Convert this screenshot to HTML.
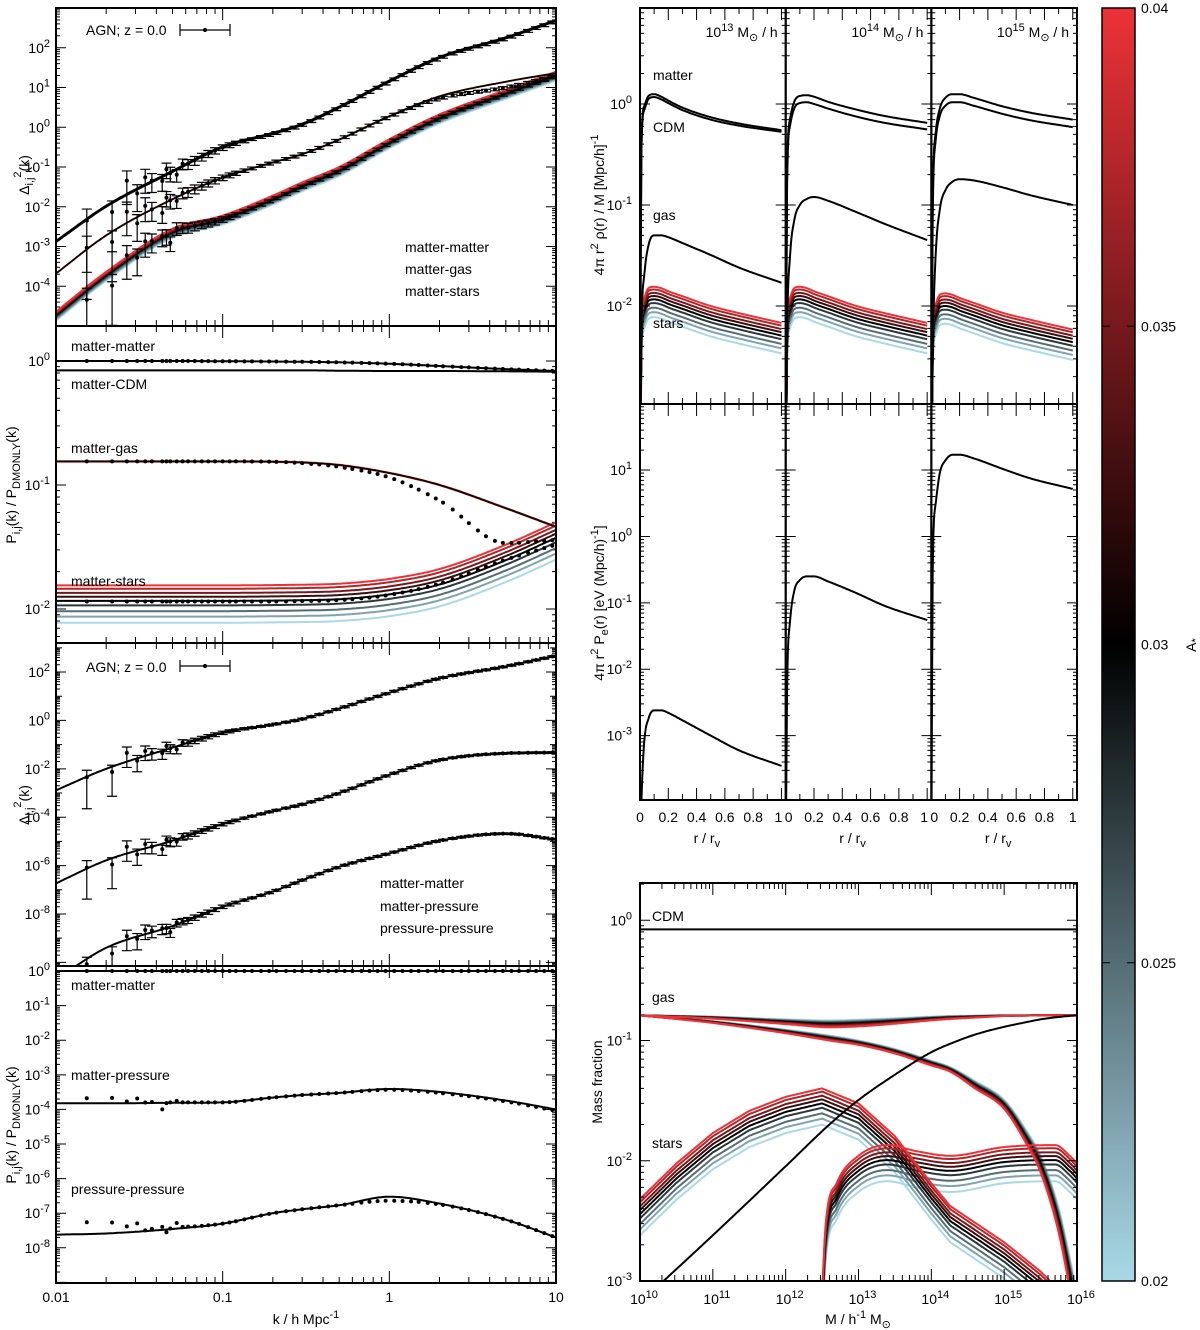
<!DOCTYPE html>
<html><head><meta charset="utf-8"><title>Power spectra and halo profiles</title>
<style>
html,body{margin:0;padding:0;background:#fff;}
svg{display:block;font-family:"Liberation Sans",Arial,sans-serif;}
text{font-size:14px;fill:#000;}
</style></head>
<body>
<svg id="chart" width="1200" height="1330" viewBox="0 0 1200 1330" xmlns="http://www.w3.org/2000/svg">
<defs>
<linearGradient id="cbgrad" x1="0" y1="0" x2="0" y2="1">
<stop offset="0" stop-color="#ec3237"/>
<stop offset="0.5" stop-color="#000"/>
<stop offset="1" stop-color="#a9d9e7"/>
</linearGradient>
</defs>
</svg>
<script>
// ---------- data ----------
const kGrid = [0.01,0.02,0.05,0.1,0.2,0.3,0.5,1,2,5,10];
const d2MM  = [1.3e-3,0.010,0.075,0.31,0.68,1.15,3.1,14,55,172,470];
const p1MG     = [2.1e-4,1.9e-3,0.0155,0.054,0.13,0.21,0.49,1.9,6,14,23];
const p1MGObs  = [2.1e-4,1.9e-3,0.0155,0.054,0.13,0.21,0.49,1.85,5.3,10,19];
const p1MSRed  = [2.3e-5,2.3e-4,2.8e-3,6e-3,0.019,0.041,0.1,0.5,2.1,8.7,25];
const p1MSObs  = [1.8e-5,1.8e-4,2.2e-3,4.8e-3,0.015,0.032,0.08,0.4,1.7,7,20];
const p3MP  = [1.85e-7,1.65e-6,1.07e-5,5.2e-5,1.8e-4,3.4e-4,1e-3,5.7e-3,0.023,0.044,0.047];
const p3PP  = [2e-11,4e-10,3.2e-9,2e-8,8.5e-8,2.5e-7,8.9e-7,3.2e-6,1.07e-5,2.1e-5,1.2e-5];
const rMM   = [1,1,1,0.995,0.99,0.985,0.975,0.95,0.91,0.86,0.83];
const rCDM  = [0.84,0.84,0.84,0.84,0.84,0.84,0.835,0.83,0.83,0.825,0.82];
const rGas  = [0.155,0.155,0.155,0.155,0.154,0.152,0.145,0.125,0.1,0.065,0.046];
const rStarsRed = [0.0155,0.0155,0.0155,0.0155,0.0156,0.0157,0.016,0.0175,0.021,0.033,0.05];
const rGasObs   = [0.155,0.155,0.155,0.155,0.154,0.15,0.14,0.115,0.075,0.034,0.036];
const rStarsObs = [0.0115,0.0115,0.0115,0.0115,0.0115,0.0116,0.0118,0.013,0.016,0.025,0.033];
const rMP   = [1.5e-4,1.5e-4,1.55e-4,1.6e-4,2.2e-4,2.6e-4,3e-4,3.9e-4,3.2e-4,1.8e-4,1e-4];
const rPP   = [2.4e-8,2.6e-8,3.5e-8,5e-8,1e-7,1.3e-7,1.7e-7,3e-7,1.9e-7,6.5e-8,2e-8];
const rMPObs= [2.2e-4,1.9e-4,1.6e-4,1.6e-4,2.2e-4,2.6e-4,3e-4,3.7e-4,3.0e-4,1.7e-4,0.92e-4];
const rPPObs= [5.5e-8,5e-8,4e-8,5e-8,1e-7,1.3e-7,1.7e-7,2.3e-7,1.8e-7,6.5e-8,2e-8];
const kObs = [0.0153,0.0217,0.0266,0.0307,0.0343,0.0376,0.0434,0.046,0.0485,0.053,0.0575,0.062,0.068,0.075,0.082,0.09,0.1,0.11,0.12,0.135,0.15,0.17,0.19,0.21,0.24,0.27,0.3,0.34,0.38,0.43,0.48,0.54,0.6,0.68,0.76,0.85,0.95,1.07,1.2,1.35,1.5,1.7,1.9,2.1,2.4,2.7,3,3.4,3.8,4.3,4.8,5.4,6,6.8,7.6,8.5,9.5];
const scatMM = [0.95,0.6,2.3,0.8,1.6,1.1,0.8,1.4,1.0,0.75,1.2,1.0];
const scatMG = [1.1,0.55,1.9,0.7,1.5,1.0,0.6,1.3,1.0,0.8,1.1,1.0];
const scatMS = [0.6,0.45,1.4,0.8,1.5,1.2,1.1,1.0,0.6,1.2,1.1,1.0];
const errFrac = [0.95,0.9,0.75,0.65,0.6,0.5,0.45,0.42,0.4,0.35,0.3,0.28,0.25,0.22,0.2,0.18,0.16,0.14,0.12,0.1];
const aStar = [0.02,0.0225,0.025,0.0275,0.03,0.0325,0.035,0.0375,0.04];
const starScale = [0.5,0.56,0.62,0.69,0.75,0.81,0.87,0.94,1.0];
const starScaleP1 = [0.6,0.65,0.7,0.76,0.81,0.86,0.9,0.95,1.0];
// halo profiles
const rGrid = [0,0.01,0.03,0.06,0.1,0.15,0.2,0.3,0.5,0.7,1.0];
const massLabels = ['13','14','15'];
const profMatter = [
 [0.0005,0.4,0.95,1.2,1.25,1.18,1.08,0.92,0.74,0.64,0.55],
 [0.0005,0.2,0.7,1.05,1.2,1.22,1.18,1.05,0.88,0.76,0.65],
 [0.0005,0.1,0.5,0.9,1.15,1.25,1.25,1.15,0.95,0.82,0.7]];
const profCDM = [
 [0.0004,0.36,0.87,1.12,1.17,1.11,1.02,0.87,0.7,0.61,0.53],
 [0.0004,0.17,0.6,0.9,1.02,1.04,1.0,0.9,0.75,0.65,0.56],
 [0.0004,0.08,0.42,0.76,0.96,1.04,1.04,0.96,0.8,0.69,0.59]];
const profGas = [
 [1e-4,0.005,0.02,0.04,0.05,0.05,0.048,0.042,0.032,0.024,0.017],
 [1e-4,0.005,0.03,0.07,0.1,0.115,0.12,0.11,0.085,0.065,0.045],
 [1e-4,0.003,0.03,0.09,0.14,0.17,0.18,0.175,0.15,0.125,0.1]];
const profStarsRed = [1e-4,0.006,0.012,0.015,0.0155,0.015,0.014,0.0125,0.01,0.0085,0.0068];
const starMassScale = [1,1,0.86];
const profPe = [
 [1e-5,1e-4,8e-4,1.8e-3,2.4e-3,2.4e-3,2.2e-3,1.7e-3,1e-3,6e-4,3.5e-4],
 [1e-5,5e-3,0.05,0.15,0.22,0.25,0.25,0.21,0.14,0.09,0.055],
 [1e-5,0.3,3,9,14,17,17,15,10.5,7.5,5.2]];
// mass fractions
const logMGrid = [10,11,12,12.6,13,13.5,14,14.26,14.6,15,15.3,15.5,15.75,16];
const fCDM = [0.84,0.84,0.84,0.84,0.84,0.84,0.84,0.84,0.84,0.84,0.84,0.84,0.84,0.84];
const gasUpRed  = [0.162,0.152,0.137,0.129,0.131,0.138,0.147,0.151,0.155,0.16,0.161,0.162,0.162,0.162];
const gasUpBlue = [0.162,0.158,0.15,0.147,0.149,0.153,0.158,0.16,0.161,0.162,0.162,0.162,0.162,0.162];
const gasLowRed = [0.162,0.14,0.115,0.1,0.092,0.078,0.062,0.055,0.04,0.027,0.014,0.008,0.0025,0.0004];
const gasLowBlue= [0.162,0.145,0.123,0.11,0.1,0.085,0.068,0.06,0.046,0.032,0.018,0.011,0.004,0.0008];
const gasEject  = [6.6e-4,2.4e-3,9e-3,0.02,0.032,0.052,0.08,0.094,0.112,0.13,0.142,0.15,0.157,0.162];
const logMCen = [10,10.5,11,11.5,12,12.5,13,13.5,14,14.26,15,15.5,16];
const cenRed  = [0.0048,0.0095,0.017,0.026,0.034,0.04,0.03,0.016,0.0065,0.0042,0.0021,0.0012,0.0006];
const logMSat = [12.5,12.55,12.7,13,13.4,13.8,14.26,15,15.7,15.9,16];
const satRed  = [0.0008,0.003,0.0065,0.011,0.0135,0.012,0.011,0.013,0.0135,0.011,0.0095];
const cbTicks = [0.04,0.035,0.03,0.025,0.02];

// ---------- helpers ----------
const NS='http://www.w3.org/2000/svg';
const svg=document.getElementById('chart');
function mk(tag, attrs, parent, name, inter){
  const el=document.createElementNS(NS,tag);
  for(const k in attrs) el.setAttribute(k,attrs[k]);
  
  
  (parent||svg).appendChild(el);
  return el;
}
function mono(xs, ys){
  const n=xs.length, d=[], m=new Array(n);
  for(let i=0;i<n-1;i++) d.push((ys[i+1]-ys[i])/(xs[i+1]-xs[i]));
  m[0]=d[0]; m[n-1]=d[n-2];
  for(let i=1;i<n-1;i++) m[i]=(d[i-1]*d[i]<=0)?0:(d[i-1]+d[i])/2;
  for(let i=0;i<n-1;i++){
    if(d[i]===0){m[i]=0;m[i+1]=0;continue;}
    const a=m[i]/d[i], b=m[i+1]/d[i], s=a*a+b*b;
    if(s>9){const t=3/Math.sqrt(s); m[i]=t*a*d[i]; m[i+1]=t*b*d[i];}
  }
  return x=>{
    let i=0; while(i<n-2 && x>xs[i+1]) i++;
    const h=xs[i+1]-xs[i], t=Math.min(1,Math.max(0,(x-xs[i])/h));
    const t2=t*t,t3=t2*t;
    return (2*t3-3*t2+1)*ys[i]+(t3-2*t2+t)*h*m[i]+(-2*t3+3*t2)*ys[i+1]+(t3-t2)*h*m[i+1];
  };
}
function lin(xs, ys){
  const n=xs.length;
  return x=>{let i=0; while(i<n-2 && x>xs[i+1]) i++;
    const t=(x-xs[i])/(xs[i+1]-xs[i]); return ys[i]+t*(ys[i+1]-ys[i]);};
}
const L=Math.log10;
function famColor(t){
  const blue=[169,217,231], red=[236,50,55];
  let c;
  if(t<0.5){const u=t/0.5; c=blue.map(v=>Math.round(v*(1-u)));}
  else {const u=(t-0.5)/0.5; c=red.map(v=>Math.round(v*u));}
  return 'rgb('+c.join(',')+')';
}
function clip(id,x,y,w,h){
  const cp=mk('clipPath',{id:id},svg.querySelector('defs'),'clip-'+id);
  mk('rect',{x:x,y:y,width:w,height:h},cp,'clip-rect');
  return 'url(#'+id+')';
}
function powText(x,y,exp,anchor,parent,name){
  const t=mk('text',{x:x,y:y,'text-anchor':anchor},parent,name);
  t.appendChild(document.createTextNode('10'));
  const s=document.createElementNS(NS,'tspan');
  s.setAttribute('dy','-6'); s.setAttribute('font-size','11'); s.textContent=exp;
  t.appendChild(s);
  return t;
}
function txt(x,y,s,parent,name,extra){
  const a={x:x,y:y}; if(extra) for(const k in extra) a[k]=extra[k];
  const t=mk('text',a,parent,name); t.textContent=s; return t;
}
function poly(pts,parent,name,stroke,w){
  return mk('path',{d:'M'+pts.map(p=>p[0].toFixed(1)+','+p[1].toFixed(1)).join('L'),fill:'none',stroke:stroke,'stroke-width':w,'stroke-linejoin':'round'},parent,name);
}
function yLogTicks(g,x0,x1,y0,y1,top,bot,step){
  const ys=v=>y0+(top-v)/(top-bot)*(y1-y0);
  let d='';
  for(let e=Math.floor(bot);e<=Math.ceil(top);e++){
    for(let m=1;m<10;m++){
      const v=e+L(m); if(v<bot||v>top) continue;
      const y=ys(v); const len=(m===1)?(((e%step)===0)?10:6):4;
      d+='M'+x0+','+y+'h'+len+'M'+x1+','+y+'h'+(-len);
    }
  }
  mk('path',{d:d,stroke:'#000','stroke-width':1,fill:'none'},g,'y-ticks');
}
function xLogTicks(g,x0,x1,y0,y1,lo,hi,ticksTop){
  const xs=v=>x0+(v-lo)/(hi-lo)*(x1-x0);
  let d='';
  for(let e=lo;e<hi;e++) for(let m=1;m<10;m++){
    const v=e+L(m); const x=xs(v); const len=m===1?12:6;
    d+='M'+x+','+y1+'v'+(-len); if(ticksTop) d+='M'+x+','+y0+'v'+len;
  }
  mk('path',{d:d,stroke:'#000','stroke-width':1,fill:'none'},g,'x-ticks');
}

// ---------- left column ----------
const KX0=56,KX1=556;
const xK=lk=>KX0+(lk+2)/3*(KX1-KX0);
const LK=kGrid.map(L);
function kCurve(vals,yScale,g,name,color,w,cp){
  const f=mono(LK,vals.map(L)); const pts=[];
  for(let j=0;j<=240;j++){const lk=-2+3*j/240; pts.push([xK(lk),yScale(f(lk))]);}
  const p=poly(pts,g,name,color,w); p.setAttribute('clip-path',cp); return p;
}
const panels=[
 {name:'panel-delta-gas-stars',y0:8,y1:326,top:3,bot:-5,step:1},
 {name:'panel-ratio-gas-stars',y0:326,y1:643,top:0.282,bot:-2.274,step:1},
 {name:'panel-delta-pressure',y0:643,y1:966,top:3.2,bot:-10.15,step:2},
 {name:'panel-ratio-pressure',y0:966,y1:1283,top:0.145,bot:-9.017,step:1}];
panels.forEach((P,pi)=>{
  P.g=mk('g',{},svg,P.name);
  P.ys=v=>P.y0+(P.top-v)/(P.top-P.bot)*(P.y1-P.y0);
  P.cp=clip('cp'+pi,KX0,P.y0,KX1-KX0,P.y1-P.y0);
  yLogTicks(P.g,KX0,KX1,P.y0,P.y1,P.top,P.bot,P.step);
  xLogTicks(P.g,KX0,KX1,P.y0,P.y1,-2,1,true);
  for(let e=Math.ceil(P.bot);e<=Math.floor(P.top);e++){
    if(e%P.step!==0) continue;
    const y=P.ys(e);
    if(y-P.y0<3||P.y1-y<6) continue;
    powText(50,y+5,String(e),'end',P.g,'y-tick-label');
  }
});
function drawObs(P,vals,scat,withErr){
  const f=mono(LK,vals.map(L));
  kObs.forEach((k,i)=>{
    const s=(i<scat.length)?scat[i]:1;
    const v=Math.pow(10,f(L(k)))*s;
    const x=xK(L(k)), y=P.ys(L(v));
    if(y<P.y0||y>P.y1) return;
    if(withErr){
      const ef=(i<errFrac.length)?errFrac[i]:0.08;
      const yt=P.ys(L(v*(1+ef))); const lo=v*(1-ef);
      const yb=lo>0?Math.min(P.y1,P.ys(L(lo))):P.y1;
      mk('path',{d:'M'+x+','+yt+'V'+yb+'M'+(x-5)+','+yt+'h10M'+(x-5)+','+yb+'h10',stroke:'#000','stroke-width':1.2,fill:'none','clip-path':P.cp},P.g,'error-bar');
    }
    mk('circle',{cx:x,cy:y,r:2,fill:'#000','clip-path':P.cp},P.g,'data-point');
  });
}
// Panel 1
{
  const P=panels[0];
  for(let i=0;i<aStar.length;i++){
    const vals=p1MSRed.map(v=>v*starScaleP1[i]);
    kCurve(vals,P.ys,P.g,'matter-stars-line',famColor(i/(aStar.length-1)),2,P.cp);
  }
  kCurve(p1MG,P.ys,P.g,'matter-gas-line-red','#c0302f',2,P.cp);
  kCurve(p1MG,P.ys,P.g,'matter-gas-line','#000',1.6,P.cp);
  kCurve(d2MM.map(v=>v*1.08),P.ys,P.g,'matter-matter-line-upper','#000',1.6,P.cp);
  kCurve(d2MM,P.ys,P.g,'matter-matter-line','#000',2,P.cp);
  drawObs(P,d2MM,scatMM,true);
  drawObs(P,p1MGObs,scatMG,true);
  drawObs(P,p1MSObs,scatMS,true);
  txt(86,35,'AGN; z = 0.0',P.g,'legend-label');
  mk('path',{d:'M180,30h50M180,24v12M230,24v12',stroke:'#000','stroke-width':1.2,fill:'none'},P.g,'legend-errorbar');
  mk('circle',{cx:205,cy:30,r:2,fill:'#000'},P.g,'legend-marker');
  txt(405,252,'matter-matter',P.g,'series-label');
  txt(405,274,'matter-gas',P.g,'series-label');
  txt(405,296,'matter-stars',P.g,'series-label');
  const t=mk('text',{x:0,y:0,transform:'translate(29,175) rotate(-90)','text-anchor':'middle'},P.g,'y-axis-title');
  t.innerHTML='Δ<tspan dy="4" font-size="11">i,j</tspan><tspan dy="-12" font-size="11">2</tspan><tspan dy="8">(k)</tspan>';
}
// Panel 2
{
  const P=panels[1];
  for(let i=0;i<aStar.length;i++){
    kCurve(rStarsRed.map(v=>v*starScale[i]),P.ys,P.g,'matter-stars-ratio-line',famColor(i/(aStar.length-1)),2,P.cp);
  }
  kCurve(rGas,P.ys,P.g,'matter-gas-ratio-red','#d0302f',2.4,P.cp);
  kCurve(rGas,P.ys,P.g,'matter-gas-ratio-line','#000',1.6,P.cp);
  kCurve(rCDM,P.ys,P.g,'matter-cdm-ratio-line','#000',2,P.cp);
  kCurve(rMM,P.ys,P.g,'matter-matter-ratio-line','#000',2,P.cp);
  drawObs(P,rMM,[],false);
  drawObs(P,rGasObs,[],false);
  drawObs(P,rStarsObs,[],false);
  txt(71,351,'matter-matter',P.g,'series-label');
  txt(71,389,'matter-CDM',P.g,'series-label');
  txt(71,453,'matter-gas',P.g,'series-label');
  txt(71,586,'matter-stars',P.g,'series-label');
  const t=mk('text',{x:0,y:0,transform:'translate(16,485) rotate(-90)','text-anchor':'middle'},P.g,'y-axis-title');
  t.innerHTML='P<tspan dy="4" font-size="11">i,j</tspan><tspan dy="-4">(k) / P</tspan><tspan dy="4" font-size="11">DMONLY</tspan><tspan dy="-4">(k)</tspan>';
}
// Panel 3
{
  const P=panels[2];
  kCurve(p3PP,P.ys,P.g,'pressure-pressure-line','#000',2,P.cp);
  kCurve(p3MP,P.ys,P.g,'matter-pressure-line','#000',2,P.cp);
  kCurve(d2MM,P.ys,P.g,'matter-matter-line','#000',2,P.cp);
  drawObs(P,d2MM,scatMM,true);
  drawObs(P,p3MP,scatMG,true);
  drawObs(P,p3PP,scatMS,true);
  txt(86,672,'AGN; z = 0.0',P.g,'legend-label');
  mk('path',{d:'M180,666h50M180,660v12M230,660v12',stroke:'#000','stroke-width':1.2,fill:'none'},P.g,'legend-errorbar');
  mk('circle',{cx:205,cy:666,r:2,fill:'#000'},P.g,'legend-marker');
  txt(380,888,'matter-matter',P.g,'series-label');
  txt(380,911,'matter-pressure',P.g,'series-label');
  txt(380,933,'pressure-pressure',P.g,'series-label');
  const t=mk('text',{x:0,y:0,transform:'translate(29,805) rotate(-90)','text-anchor':'middle'},P.g,'y-axis-title');
  t.innerHTML='Δ<tspan dy="4" font-size="11">i,j</tspan><tspan dy="-12" font-size="11">2</tspan><tspan dy="8">(k)</tspan>';
}
// Panel 4
{
  const P=panels[3];
  kCurve(rPP,P.ys,P.g,'pressure-pressure-ratio-line','#000',2,P.cp);
  kCurve(rMP,P.ys,P.g,'matter-pressure-ratio-line','#000',2,P.cp);
  kCurve(rMM.map(()=>1),P.ys,P.g,'matter-matter-ratio-line','#000',2,P.cp);
  drawObs(P,rMM.map(()=>1),[],false);
  drawObs(P,rMPObs,[1.05,1.15,0.95,1.2,0.95,1.0,0.62,0.95,1.0,1.1,1.0,1.0],false);
  drawObs(P,rPPObs,[1.05,1.1,0.9,1.15,0.75,0.85,1.0,0.7,0.9,1.3,1.0,1.0],false);
  txt(71,990,'matter-matter',P.g,'series-label');
  txt(71,1080,'matter-pressure',P.g,'series-label');
  txt(71,1194,'pressure-pressure',P.g,'series-label');
  const t=mk('text',{x:0,y:0,transform:'translate(16,1125) rotate(-90)','text-anchor':'middle'},P.g,'y-axis-title');
  t.innerHTML='P<tspan dy="4" font-size="11">i,j</tspan><tspan dy="-4">(k) / P</tspan><tspan dy="4" font-size="11">DMONLY</tspan><tspan dy="-4">(k)</tspan>';
}
panels.forEach(P=>mk('rect',{x:KX0,y:P.y0,width:KX1-KX0,height:P.y1-P.y0,fill:'none',stroke:'#000','stroke-width':2},P.g,'panel-frame'));
['0.01','0.1','1','10'].forEach((s,i)=>txt(xK(-2+i),1302,s,svg,'x-tick-label',{'text-anchor':'middle'}));
{const t=mk('text',{x:306,y:1324,'text-anchor':'middle'},svg,'x-axis-title');
 t.innerHTML='k / h Mpc<tspan dy="-6" font-size="11">-1</tspan>';}

// ---------- right top: profiles ----------
const RX=[640,785.7,931.3], RW=145.7, RMAX=1.03;
const rowD={y0:8,y1:404,top:0.95,bot:-2.97}, rowP={y0:404,y1:800,top:1.995,bot:-3.97};
[rowD,rowP].forEach(R=>{R.ys=v=>R.y0+(R.top-v)/(R.top-R.bot)*(R.y1-R.y0);});
function rCurve(vals,x0,R,g,name,color,w,cp){
  const f=mono(rGrid,vals.map(L)); const pts=[];
  for(let j=0;j<=200;j++){const r=j/200; pts.push([x0+r/RMAX*RW,R.ys(f(r))]);}
  const p=poly(pts,g,name,color,w); p.setAttribute('clip-path',cp); return p;
}
for(let m=0;m<3;m++){
  const x0=RX[m];
  const gD=mk('g',{},svg,'density-panel-'+massLabels[m]);
  const cpD=clip('cpd'+m,x0,rowD.y0,RW,rowD.y1-rowD.y0);
  for(let i=0;i<aStar.length;i++){
    rCurve(profStarsRed.map(v=>v*starScale[i]*starMassScale[m]),x0,rowD,gD,'stars-profile',famColor(i/(aStar.length-1)),2,cpD);
  }
  rCurve(profGas[m],x0,rowD,gD,'gas-profile','#000',2,cpD);
  rCurve(profCDM[m],x0,rowD,gD,'cdm-profile','#000',2,cpD);
  rCurve(profMatter[m],x0,rowD,gD,'matter-profile','#000',2,cpD);
  const gP=mk('g',{},svg,'pressure-panel-'+massLabels[m]);
  const cpP=clip('cpp'+m,x0,rowP.y0,RW,rowP.y1-rowP.y0);
  rCurve(profPe[m],x0,rowP,gP,'pressure-profile','#000',2,cpP);
  [[rowD,gD],[rowP,gP]].forEach(([R,g])=>{
    yLogTicks(g,x0,x0+RW,R.y0,R.y1,R.top,R.bot,1);
    let d='';
    for(let j=0;j<=10;j++){const x=x0+(j/10)/RMAX*RW; const len=(j%2===0)?12:6; d+='M'+x+','+R.y1+'v'+(-len)+'M'+x+','+R.y0+'v'+len;}
    mk('path',{d:d,stroke:'#000','stroke-width':1,fill:'none'},g,'x-ticks');
    mk('rect',{x:x0,y:R.y0,width:RW,height:R.y1-R.y0,fill:'none',stroke:'#000','stroke-width':2},g,'panel-frame');
  });
  const tt=mk('text',{x:x0+RW-8,y:37,'text-anchor':'end'},gD,'mass-title');
  tt.innerHTML='10<tspan dy="-6" font-size="11">'+massLabels[m]+'</tspan><tspan dy="6"> M</tspan><tspan dy="4" font-size="11">⊙</tspan><tspan dy="-4"> / h</tspan>';
  ['0','0.2','0.4','0.6','0.8','1'].forEach((s,j)=>{
    const x=x0+(j*0.2)/RMAX*RW+(j===0&&m>0?3:0)+(j===5&&m<2?-3:0);
    txt(x,822,s,svg,'r-tick-label',{'text-anchor':'middle'});
  });
  const rl=mk('text',{x:x0+RW/2-6,y:843,'text-anchor':'middle'},svg,'r-axis-title');
  rl.innerHTML='r / r<tspan dy="4" font-size="11">v</tspan>';
}
[0,-1,-2].forEach(e=>powText(632,rowD.ys(e)+5,String(e),'end',svg,'density-tick-label'));
[1,0,-1,-2,-3].forEach(e=>powText(632,rowP.ys(e)+5,String(e),'end',svg,'pressure-tick-label'));
txt(653,80,'matter',svg,'series-label');
txt(653,132,'CDM',svg,'series-label');
txt(653,220,'gas',svg,'series-label');
txt(653,328,'stars',svg,'series-label');
{const t=mk('text',{x:0,y:0,transform:'translate(604,205) rotate(-90)','text-anchor':'middle'},svg,'density-axis-title');
 t.innerHTML='4π r<tspan dy="-6" font-size="11">2</tspan><tspan dy="6"> ρ(r) / M [Mpc/h]</tspan><tspan dy="-6" font-size="11">-1</tspan>';}
{const t=mk('text',{x:0,y:0,transform:'translate(604,603) rotate(-90)','text-anchor':'middle'},svg,'pressure-axis-title');
 t.innerHTML='4π r<tspan dy="-6" font-size="11">2</tspan><tspan dy="6"> P</tspan><tspan dy="4" font-size="11">e</tspan><tspan dy="-4">(r) [eV (Mpc/h)</tspan><tspan dy="-6" font-size="11">-1</tspan><tspan dy="6">]</tspan>';}

// ---------- mass fraction ----------
{
  const X0=640,X1=1077,Y0=883,Y1=1281,TOP=0.31,BOT=-3;
  const g=mk('g',{},svg,'mass-fraction-panel');
  const xs=lm=>X0+(lm-10)/6*(X1-X0);
  const ys=v=>Y0+(TOP-v)/(TOP-BOT)*(Y1-Y0);
  const cp=clip('cpmf',X0,Y0,X1-X0,Y1-Y0);
  function mCurve(grid,vals,name,color,w,smooth){
    const f=smooth?mono(grid,vals.map(L)):lin(grid,vals.map(L)); const pts=[];
    const a=grid[0], b=grid[grid.length-1];
    for(let j=0;j<=300;j++){const lm=a+(b-a)*j/300; pts.push([xs(lm),ys(f(lm))]);}
    const p=poly(pts,g,name,color,w); p.setAttribute('clip-path',cp); return p;
  }
  function blend(ra,rb,t){return ra.map((v,i)=>Math.pow(10,L(rb[i])*(1-t)+L(v)*t));}
  const n=aStar.length;
  for(let i=0;i<n;i++){
    const t=i/(n-1), c=famColor(t);
    mCurve(logMCen,cenRed.map(v=>v*starScale[i]),'central-stars-fraction',c,2,false);
    mCurve(logMSat,satRed.map(v=>v*starScale[i]),'satellite-stars-fraction',c,2,true);
    mCurve(logMGrid,blend(gasUpRed,gasUpBlue,t),'gas-fraction-upper',c,2,true);
    mCurve(logMGrid,blend(gasLowRed,gasLowBlue,t),'gas-fraction-lower',c,2,true);
  }
  mCurve(logMGrid,gasEject,'ejected-gas-fraction','#000',2,true);
  mCurve(logMGrid,fCDM,'cdm-fraction','#000',2,false);
  yLogTicks(g,X0,X1,Y0,Y1,TOP,BOT,1);
  xLogTicks(g,X0,X1,Y0,Y1,10,16,true);
  mk('rect',{x:X0,y:Y0,width:X1-X0,height:Y1-Y0,fill:'none',stroke:'#000','stroke-width':2},g,'panel-frame');
  [0,-1,-2,-3].forEach(e=>powText(632,ys(e)+5,String(e),'end',g,'y-tick-label'));
  for(let e=10;e<=16;e++) powText(xs(e)+4,1304,String(e),'middle',g,'x-tick-label');
  txt(652,921,'CDM',g,'series-label');
  txt(652,1002,'gas',g,'series-label');
  txt(652,1148,'stars',g,'series-label');
  const xt=mk('text',{x:858,y:1324,'text-anchor':'middle'},g,'x-axis-title');
  xt.innerHTML='M / h<tspan dy="-6" font-size="11">-1</tspan><tspan dy="6"> M</tspan><tspan dy="4" font-size="11">⊙</tspan>';
  const yt=mk('text',{x:0,y:0,transform:'translate(602,1082) rotate(-90)','text-anchor':'middle'},g,'y-axis-title');
  yt.textContent='Mass fraction';
}

// ---------- colorbar ----------
{
  const g=mk('g',{},svg,'colorbar');
  const cy=v=>8+(0.04-v)/0.02*(1281-8);
  mk('rect',{x:1102,y:8,width:33,height:1273,fill:'url(#cbgrad)',stroke:'#000','stroke-width':1.5},g,'colorbar-gradient');
  cbTicks.forEach(v=>{
    const y=cy(v);
    mk('path',{d:'M1102,'+y+'h8M1135,'+y+'h-8',stroke:'#000','stroke-width':1},g,'colorbar-tick');
    txt(1141,y+5,String(v),g,'colorbar-tick-label');
  });
  const t=mk('text',{x:0,y:0,transform:'translate(1196,645) rotate(-90)','text-anchor':'middle'},g,'colorbar-title');
  t.innerHTML='A<tspan dy="3" font-size="11">*</tspan>';
}
</script>
</body></html>
